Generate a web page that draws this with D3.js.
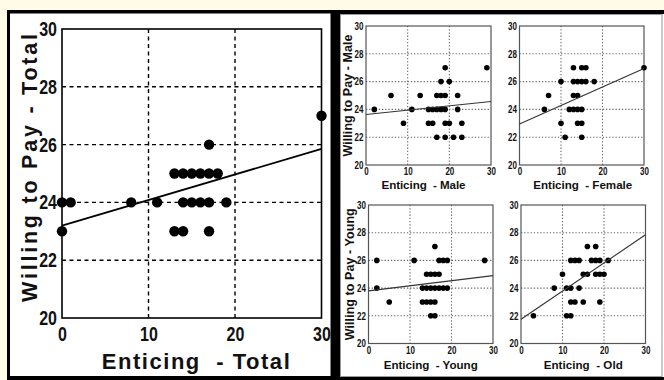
<!DOCTYPE html>
<html>
<head>
<meta charset="utf-8">
<script src="https://cdn.jsdelivr.net/npm/d3@7"></script>
<style>
  html, body { margin: 0; padding: 0; background: #fffbe6; }
  svg { display: block; }
  text { font-family: "Liberation Sans", Arial, sans-serif; font-weight: bold; fill: #111; }
</style>
</head>
<body>
<svg id="chart" width="664" height="380"></svg>
<script>
// Enticing score vs. willingness to pay, whole sample and four sub-groups.
const enticingTotal = [0, 0, 1, 8, 11, 13, 14, 15, 16, 17, 18, 14, 15, 16, 17, 19, 13, 14, 17, 17, 30];
const willingTotal  = [23, 24, 24, 24, 24, 25, 25, 25, 25, 25, 25, 24, 24, 24, 24, 24, 23, 23, 23, 26, 27];

const enticingMale = [2, 6, 9, 11, 13, 15, 16, 17, 18, 19, 22, 17, 18, 19, 22, 18, 20, 19, 29, 15, 16, 19, 20, 23, 17, 19, 21, 23];
const willingMale  = [24, 25, 23, 24, 25, 24, 24, 24, 24, 24, 24, 25, 25, 25, 25, 26, 26, 27, 27, 23, 23, 23, 23, 23, 22, 22, 22, 22];

const enticingFemale = [6, 7, 10, 10, 11, 13, 15, 16, 13, 14, 15, 16, 18, 13, 14, 12, 13, 14, 15, 14, 15, 15, 30];
const willingFemale  = [24, 25, 26, 23, 22, 27, 27, 27, 26, 26, 26, 26, 26, 25, 25, 24, 24, 24, 24, 23, 23, 22, 27];

const enticingYoung = [2, 2, 5, 11, 28, 16, 17, 18, 19, 14, 15, 16, 17, 13, 14, 15, 16, 17, 18, 19, 13, 14, 15, 16, 15, 16];
const willingYoung  = [26, 24, 23, 26, 26, 27, 26, 26, 26, 25, 25, 25, 25, 24, 24, 24, 24, 24, 24, 24, 23, 23, 23, 23, 22, 22];

const enticingOld = [3, 8, 10, 11, 12, 11, 12, 12, 13, 12, 13, 14, 14, 15, 15, 16, 16, 18, 17, 18, 19, 18, 19, 20, 19, 21];
const willingOld  = [22, 24, 25, 24, 24, 22, 22, 23, 23, 26, 26, 26, 24, 23, 25, 25, 27, 27, 26, 26, 26, 25, 25, 25, 23, 26];

// fitted line, value at enticing = 0 and at enticing = 30
const fitTotal  = [23.2, 25.85];
const fitMale   = [23.63, 24.57];
const fitFemale = [22.95, 26.95];
const fitYoung  = [23.8, 24.9];
const fitOld    = [21.75, 27.85];

const xTicks = [0, 10, 20, 30];
const yTicks = [20, 22, 24, 26, 28, 30];

const svg = d3.select('#chart');

// frames of the two boards
svg.append('rect').attr('x', 7).attr('y', 10).attr('width', 657).attr('height', 370).attr('fill', '#000');
svg.append('rect').attr('x', 10).attr('y', 13.5).attr('width', 320.5).attr('height', 362.5).attr('fill', '#fff');
svg.append('rect').attr('x', 340).attr('y', 14).attr('width', 324).attr('height', 363).attr('fill', '#fff');
svg.append('rect').attr('x', 340.5).attr('y', 14.5).attr('width', 321.5).attr('height', 362)
    .attr('fill', 'none').attr('stroke', '#999').attr('stroke-width', 1);

function squeeze(sel, k) {
  sel.each(function() {
    const w = this.getComputedTextLength();
    d3.select(this).attr('textLength', w * k).attr('lengthAdjust', 'spacingAndGlyphs');
  });
}

function drawPanel(p) {
  const x = d3.scaleLinear().domain([0, 30]).range([p.left, p.right]);
  const y = d3.scaleLinear().domain([20, 30]).range([p.bottom, p.top]);
  const g = svg.append('g');
  const s = p.style;

  // grid
  g.append('g').selectAll('line').data(xTicks.slice(1, -1)).join('line')
      .attr('x1', d => x(d)).attr('x2', d => x(d))
      .attr('y1', p.top).attr('y2', p.bottom)
      .attr('stroke', s.grid).attr('stroke-width', s.gridWidth)
      .attr('stroke-dasharray', s.dash);
  g.append('g').selectAll('line').data(yTicks.slice(1, -1)).join('line')
      .attr('x1', p.left).attr('x2', p.right)
      .attr('y1', d => y(d)).attr('y2', d => y(d))
      .attr('stroke', s.grid).attr('stroke-width', s.gridWidth)
      .attr('stroke-dasharray', s.dash);

  // frame
  g.append('rect')
      .attr('x', p.left).attr('y', p.top)
      .attr('width', p.right - p.left).attr('height', p.bottom - p.top)
      .attr('fill', 'none').attr('stroke', s.frame).attr('stroke-width', s.frameWidth);

  // axes
  const ax = g.append('g').attr('transform', `translate(0,${p.bottom})`)
      .call(d3.axisBottom(x).tickValues(xTicks).tickSize(0).tickPadding(s.xPad));
  const ay = g.append('g').attr('transform', `translate(${p.left},0)`)
      .call(d3.axisLeft(y).tickValues(yTicks).tickSize(0).tickPadding(s.yPad));
  [ax, ay].forEach(a => {
    a.select('.domain').remove();
    a.selectAll('text').attr('font-size', s.tickFont).attr('fill', '#111');
    a.attr('font-family', null).attr('font-size', null);
    squeeze(a.selectAll('text'), 0.8);
  });

  // points
  g.append('g').selectAll('circle').data(p.xs.map((d, i) => [d, p.ys[i]])).join('circle')
      .attr('cx', d => x(d[0])).attr('cy', d => y(d[1])).attr('r', s.r)
      .attr('fill', '#000');

  // fitted line
  g.append('line')
      .attr('x1', x(0)).attr('y1', y(p.fit[0]))
      .attr('x2', x(30)).attr('y2', y(p.fit[1]))
      .attr('stroke', s.line).attr('stroke-width', s.lineWidth);

  // titles
  g.append('text')
      .attr('x', (p.left + p.right) / 2 + (p.xLabelShift || 0)).attr('y', p.xLabelY)
      .attr('text-anchor', 'middle').attr('font-size', s.labelFont)
      .style('white-space', 'pre')
      .attr('textLength', p.xLabelLen).attr('lengthAdjust', 'spacing')
      .text(p.xLabel);
  if (p.yLabel) {
    const cy = p.yLabelCenter || (p.top + p.bottom) / 2;
    g.append('text')
        .attr('transform', `translate(${p.yLabelX},${cy}) rotate(-90)`)
        .attr('text-anchor', 'middle').attr('font-size', s.yLabelFont)
        .attr('textLength', p.yLabelLen).attr('lengthAdjust', 'spacing')
        .text(p.yLabel);
  }
}

const bigStyle = {
  grid: '#000', gridWidth: 1.4, dash: '4,3.5', frame: '#000', frameWidth: 1.6,
  xPad: 9, yPad: 5, tickFont: 20, r: 5.2, line: '#000', lineWidth: 1.8,
  labelFont: 22, yLabelFont: 21.5
};
const smallStyle = {
  grid: '#666', gridWidth: 1.1, dash: '1.3,1.9', frame: '#555', frameWidth: 1.2,
  xPad: 3, yPad: 2.5, tickFont: 10, r: 2.8, line: '#333', lineWidth: 1.1,
  labelFont: 11.6, yLabelFont: 12.5
};

drawPanel({
  left: 62, right: 321.5, top: 29, bottom: 318, style: bigStyle,
  xs: enticingTotal, ys: willingTotal, fit: fitTotal,
  xLabel: 'Enticing  - Total', xLabelY: 369, xLabelLen: 188, xLabelShift: 4,
  yLabel: 'Willing to Pay - Total', yLabelX: 37, yLabelLen: 268, yLabelCenter: 168
});
drawPanel({
  left: 366, right: 491, top: 26, bottom: 165, style: smallStyle,
  xs: enticingMale, ys: willingMale, fit: fitMale,
  xLabel: 'Enticing  - Male', xLabelY: 189, xLabelLen: 84, xLabelShift: -5,
  yLabel: 'Willing to Pay - Male', yLabelX: 352, yLabelLen: 122
});
drawPanel({
  left: 519.5, right: 644, top: 26, bottom: 165, style: smallStyle,
  xs: enticingFemale, ys: willingFemale, fit: fitFemale,
  xLabel: 'Enticing  - Female', xLabelY: 189, xLabelLen: 99, xLabelShift: 1
});
drawPanel({
  left: 368.5, right: 493, top: 205, bottom: 343.5, style: smallStyle,
  xs: enticingYoung, ys: willingYoung, fit: fitYoung,
  xLabel: 'Enticing  - Young', xLabelY: 369, xLabelLen: 94,
  yLabel: 'Willing to Pay - Young', yLabelX: 354, yLabelLen: 132
});
drawPanel({
  left: 521, right: 645.5, top: 205, bottom: 343.5, style: smallStyle,
  xs: enticingOld, ys: willingOld, fit: fitOld,
  xLabel: 'Enticing  - Old', xLabelY: 369, xLabelLen: 79
});
</script>
</body>
</html>
